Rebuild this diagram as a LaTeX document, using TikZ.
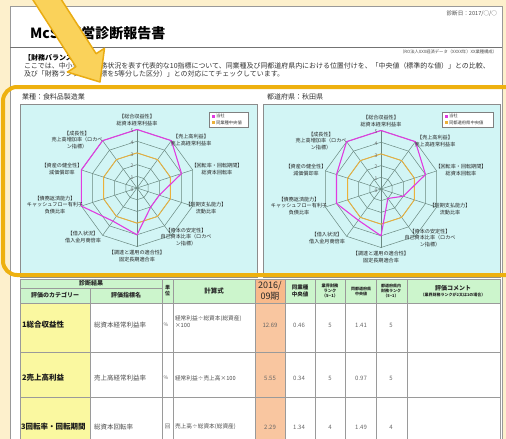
\documentclass[tikz,border=0pt]{standalone}
\usepackage{fontspec}
\setmainfont{Noto Sans CJK JP}
\definecolor{bgpeach}{HTML}{FDF0CC}
\definecolor{hlorange}{HTML}{EEB10F}
\definecolor{arrowfill}{HTML}{FAD25A}
\definecolor{arrowedge}{HTML}{EAAC12}
\definecolor{chartcyan}{HTML}{D2F5F5}
\definecolor{gridc}{HTML}{6A8880}
\definecolor{magc}{HTML}{E03CE0}
\definecolor{medc}{HTML}{EBB13A}
\definecolor{hdrgreen}{HTML}{CCF5CC}
\definecolor{catyellow}{HTML}{FAF8A0}
\definecolor{colorange}{HTML}{F9C6A0}
\definecolor{hdrorange}{HTML}{F8B98A}
\definecolor{tline}{HTML}{9A9A9A}
\newcommand\fs[2]{\fontsize{#1}{#2}\selectfont}
\def\rs{11.7}
\newcommand\radar[5]{%
  \foreach \r in {1,...,5}{%
    \draw[gridl] ({#1},{#2-\r*\rs}) \foreach \k in {1,...,9}{ -- ({#1+\r*\rs*sin(36*\k)},{#2-\r*\rs*cos(36*\k)}) } -- cycle;
  }
  \foreach \k in {0,...,9}{\draw[gridl] ({#1},{#2}) -- ({#1+5*\rs*sin(36*\k)},{#2-5*\rs*cos(36*\k)});}
  \draw[medl] ({#1},{#2-3*\rs}) \foreach \k in {1,...,9}{ -- ({#1+3*\rs*sin(36*\k)},{#2-3*\rs*cos(36*\k)}) } -- cycle;
  \draw[magl] ({#1},{#2-#3*\rs}) \foreach \val [count=\k] in {#4}{ -- ({#1+\val*\rs*sin(36*\k)},{#2-\val*\rs*cos(36*\k)}) } -- cycle;
  \foreach \r in {0,...,5}{\node[tick] (tk#5\r) at ({#1-5},{#2-\r*\rs+1.5}) {\r};}
  \node[axl] (#5a1) at ({#1},{#2-68}) {【総合収益性】\\総資本経常利益率};
  \node[axl] (#5a2) at ({#1+54},{#2-48}) {【売上高利益】\\売上高経常利益率};
  \node[axl] (#5a3) at ({#1+80},{#2-19}) {【回転率・回転期間】\\総資本回転率};
  \node[axl] (#5a4) at ({#1+69},{#2+20}) {【短期支払能力】\\流動比率};
  \node[axl] (#5a5) at ({#1+49},{#2+49}) {【資本の安定性】\\自己資本比率（ロカベ\\ン指標）};
  \node[axl] (#5a6) at ({#1},{#2+68}) {【調達と運用の適合性】\\固定長期適合率};
  \node[axl] (#5a7) at ({#1-54},{#2+49}) {【借入状況】\\借入金月商倍率};
  \node[axl] (#5a8) at ({#1-82},{#2+17}) {【債務返済能力】\\キャッシュフロー有利子\\負債比率};
  \node[axl] (#5a9) at ({#1-75},{#2-19}) {【資産の健全性】\\減価償却率};
  \node[axl] (#5a10) at ({#1-60},{#2-48}) {【成長性】\\売上高増加率（ロカベ\\ン指標）};
}
\begin{document}
\begin{tikzpicture}[x=1pt,y=-1pt,
  every node/.style={inner sep=0pt,outer sep=0pt},
  gridl/.style={draw=gridc,line width=0.5pt},
  medl/.style={draw=medc,line width=0.9pt},
  magl/.style={draw=magc,line width=1.1pt,line join=round},
  tick/.style={font=\fs{5}{6},text=black!60},
  axl/.style={font=\fs{5.1}{6.3},align=center,text=black!85},
  lgt/.style={font=\fs{4.3}{5},anchor=west,text=black!80},
  tl/.style={draw=tline,line width=0.6pt},
  hd/.style={font=\fs{6}{7}\bfseries,align=center,text=black!85},
  td/.style={font=\fs{6.5}{7.5},text=black!70,anchor=west},
  num/.style={font=\fs{6}{7},text=black!60},
  cat/.style={font=\fs{7.5}{8}\bfseries,anchor=west,text=black!90}]
\useasboundingbox (0,0) rectangle (506,439);
\clip (0,0) rectangle (506,439);
\fill[bgpeach] (0,0) rectangle (506,439);
% paper
\draw[draw=black!40,fill=white,line width=0.6pt] (10,6.5) rectangle (502,450);
\node[font=\fs{5.6}{6},anchor=east,text=black!70] (date) at (497,14) {診断日：2017/○/○};
\node[font=\fs{14}{15}\bfseries,anchor=west] (title) at (30,33) {McSS経営診断報告書};
\draw[draw=black!55,line width=1.4pt] (10,47.5) -- (502,47.5);
\node[font=\fs{4.3}{5},anchor=east,text=black!70] (src) at (497,52) {（RO法人XXX経済データ（XXXX年）XX業種構成）};
\node[font=\fs{7}{8}\bfseries,anchor=west] (sec) at (24,57.5) {【財務バランスの状況】};
\node[font=\fs{6.95}{8},anchor=west,text=black!80] (intro1) at (24,65.5) {ここでは、中小企業の財務状況を表す代表的な10指標について、同業種及び同都道府県内における位置付けを、「中央値（標準的な値）」との比較、};
\node[font=\fs{6.95}{8},anchor=west,text=black!80] (intro2) at (24,73.5) {及び「財務ランク（各指標を5等分した区分）」との対応にてチェックしています。};
% charts
\node[font=\fs{7}{8},anchor=west,text=black!80] (ct1) at (22,97) {業種：食料品製造業};
\node[font=\fs{7}{8},anchor=west,text=black!80] (ct2) at (267,97) {都道府県：秋田県};
\draw[draw=black!45,fill=chartcyan,line width=0.6pt] (20,104) rectangle (257,277);
\draw[draw=black!45,fill=chartcyan,line width=0.6pt] (263,104) rectangle (500,277);
\radar{137}{188}{5}{5,4,2,2,4,3.5,5,5,5}{c1}
\radar{381}{189}{5}{5,4,2,1,4,3.3,4,4,5}{c2}
% legends
\node[draw=black!50,fill=white,minimum width=39pt,minimum height=15pt,anchor=north west] (lg1) at (209,112) {};
\fill[magc] (212,114.5) rectangle (215,117.5);
\node[lgt] (lg1a) at (216,116) {当社};
\fill[medc] (212,121) rectangle (215,124);
\node[lgt] (lg1b) at (216,122.5) {同業種中央値};
\node[draw=black!50,fill=white,minimum width=51pt,minimum height=15pt,anchor=north west] (lg2) at (442,112) {};
\fill[magc] (445,114.5) rectangle (448,117.5);
\node[lgt] (lg2a) at (449,116) {当社};
\fill[medc] (445,121) rectangle (448,124);
\node[lgt] (lg2b) at (449,122.5) {同都道府県中央値};
% table fills
\fill[hdrgreen] (20,279) rectangle (500,303);
\fill[hdrorange] (255,279) rectangle (285,303);
\fill[catyellow] (20,303) rectangle (90,450);
\fill[colorange] (255,303) rectangle (285,450);
% table lines
\draw[tl] (20,279) -- (500,279);
\draw[tl] (20,288) -- (162,288);
\foreach \yy in {303,352,397}{\draw[tl] (20,\yy) -- (500,\yy);}
\draw[tl] (90,288) -- (90,450);
\foreach \xx in {20,162,173,255,285,315,345,376,407,500}{\draw[tl] (\xx,279) -- (\xx,450);}
% header text
\node[hd] (h0) at (91,283.5) {診断結果};
\node[hd] (h1) at (55,295.5) {評価のカテゴリー};
\node[hd] (h2) at (126,295.5) {評価指標名};
\node[hd,font=\fs{5}{6}\bfseries] (h3) at (167.5,291) {単\\位};
\node[hd,font=\fs{6.5}{7.5}\bfseries] (h4) at (214,291) {計算式};
\node[hd,font=\fs{9}{11}] (h5) at (270,291) {2016/\\09期};
\node[hd,font=\fs{5.5}{6.5}\bfseries] (h6) at (300,291) {同業種\\中央値};
\node[hd,font=\fs{4.2}{5.3}\bfseries] (h7) at (330,291) {業界財務\\ランク\\（5−1）};
\node[hd,font=\fs{4}{5}\bfseries] (h8) at (361,291) {同都道府県\\中央値};
\node[hd,font=\fs{4}{5}\bfseries] (h9) at (391,291) {都道府県内\\財務ランク\\（5−1）};
\node[hd,font=\fs{6}{7}\bfseries] (h10) at (453,288) {評価コメント};
\node[hd,font=\fs{4}{5}\bfseries] (h11) at (453,295) {（業界財務ランクが2又は1の場合）};
% row 1
\node[cat] (r1c) at (22,325) {1総合収益性};
\node[td] (r1n) at (94,325) {総資本経常利益率};
\node[num,font=\fs{5}{6}] (r1u) at (166,325) {\%};
\node[td,font=\fs{5.7}{7}] (r1f) at (175,318.5) {経常利益÷総資本(総資産)};
\node[td,font=\fs{5.7}{7}] (r1g) at (175,325.5) {×100};
\node[num] (r1v) at (270,325) {12.69};
\node[num] (r1m) at (299,325) {0.46};
\node[num] (r1r) at (330,325) {5};
\node[num] (r1p) at (361,325) {1.41};
\node[num] (r1q) at (391,325) {5};
% row 2
\node[cat] (r2c) at (22,378) {2売上高利益};
\node[td] (r2n) at (94,378) {売上高経常利益率};
\node[num,font=\fs{5}{6}] (r2u) at (166,378) {\%};
\node[td,font=\fs{5.7}{7}] (r2f) at (175,378) {経常利益÷売上高×100};
\node[num] (r2v) at (270,378) {5.55};
\node[num] (r2m) at (299,378) {0.34};
\node[num] (r2r) at (330,378) {5};
\node[num] (r2p) at (361,378) {0.97};
\node[num] (r2q) at (391,378) {5};
% row 3
\node[cat] (r3c) at (21,427) {3回転率・回転期間};
\node[td] (r3n) at (94,427) {総資本回転率};
\node[num,font=\fs{5.5}{6}] (r3u) at (167.5,427) {回};
\node[td,font=\fs{5.7}{7}] (r3f) at (175,427) {売上高÷総資本(総資産)};
\node[num] (r3v) at (270,427) {2.29};
\node[num] (r3m) at (299,427) {1.34};
\node[num] (r3r) at (330,427) {4};
\node[num] (r3p) at (361,427) {1.49};
\node[num] (r3q) at (391,427) {4};
% highlight
\draw[draw=hlorange,line width=4pt,rounded corners=14pt] (3,87) rectangle (540,275);
% arrow
\draw[fill=arrowfill,draw=arrowedge,line width=1.5pt,line join=round]
  (47.5,-21.9) -- (96.1,53.7) -- (104.5,48.3) -- (100,82) -- (67.5,72.1) -- (75.9,66.7) -- (27.3,-8.9) -- cycle;
\end{tikzpicture}
\end{document}
